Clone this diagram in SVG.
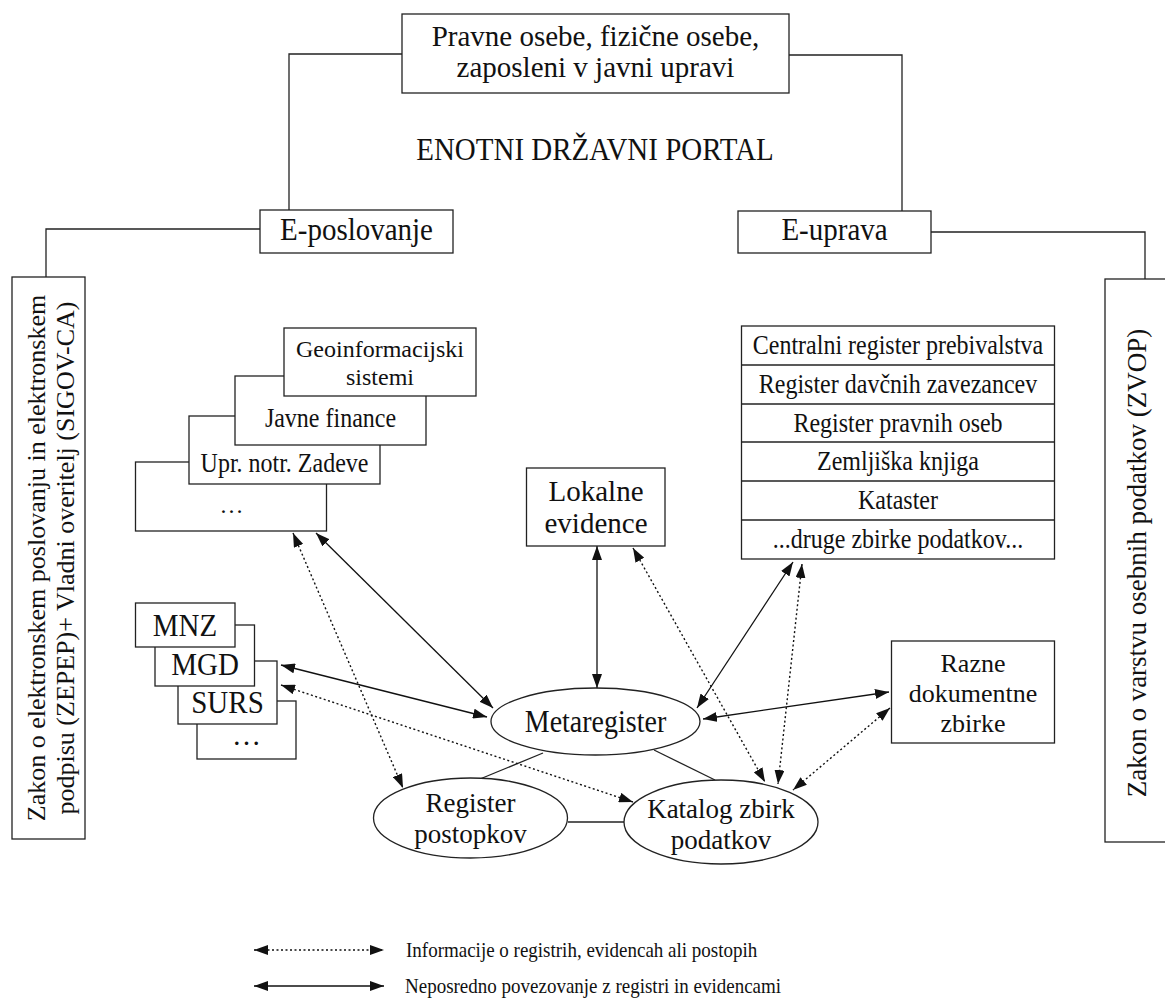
<svg xmlns="http://www.w3.org/2000/svg" width="1165" height="999" viewBox="0 0 1165 999" font-family="'Liberation Serif', 'Times New Roman', serif">
<style>
  text { font-family: "Liberation Serif", "Times New Roman", serif; fill: #111; }
  .box { fill: #fff; stroke: #222; stroke-width: 1.3; }
  .ln { fill: none; stroke: #222; stroke-width: 1.3; }
  .solid { fill: none; stroke: #111; stroke-width: 1.3; marker-start: url(#ah); marker-end: url(#ah); }
  .dot { fill: none; stroke: #111; stroke-width: 1.4; stroke-dasharray: 2 2.5; marker-start: url(#ah); marker-end: url(#ah); }
  .c { text-anchor: middle; }
  .f29 { font-size: 29px; }
  .f27 { font-size: 27px; }
  .f26 { font-size: 26px; }
  .f24 { font-size: 24px; }
</style>
<defs>
  <marker id="ah" viewBox="0 0 14 10" refX="14" refY="5" markerWidth="14" markerHeight="10" markerUnits="userSpaceOnUse" orient="auto-start-reverse">
    <path d="M0,0 L14,5 L0,10 z" fill="#111"/>
  </marker>
</defs>
<rect width="1165" height="999" fill="#fff"/>

<g id="connectors">
  <polyline class="ln" points="402,54 289,54 289,210"/>
  <polyline class="ln" points="789,55 902,55 902,211"/>
  <polyline class="ln" points="260,229 46,229 46,277"/>
  <polyline class="ln" points="931,232 1145,232 1145,279"/>
  <line class="ln" x1="543" y1="753" x2="480" y2="779"/>
  <line class="ln" x1="654" y1="750" x2="715" y2="780"/>
  <line class="ln" x1="568" y1="822" x2="624" y2="822"/>
  <line class="solid" x1="316" y1="533" x2="493" y2="708"/>
  <line class="solid" x1="597" y1="546" x2="597" y2="688"/>
  <line class="solid" x1="281" y1="665" x2="487" y2="717"/>
  <line class="solid" x1="793" y1="562" x2="697" y2="708"/>
  <line class="solid" x1="889" y1="692" x2="703" y2="719"/>
  <line class="dot" x1="293" y1="533" x2="403" y2="788"/>
  <line class="dot" x1="281" y1="685" x2="633" y2="802"/>
  <line class="dot" x1="633" y1="548" x2="765" y2="782"/>
  <line class="dot" x1="802" y1="564" x2="778" y2="784"/>
  <line class="dot" x1="890" y1="708" x2="793" y2="790"/>
</g>

<g id="top">
  <rect class="box" x="402" y="14" width="387" height="79"/>
  <text class="c f29" x="595.5" y="46">Pravne osebe, fizične osebe,</text>
  <text class="c f29" x="595.5" y="77">zaposleni v javni upravi</text>
</g>
<g id="portal">
  <text class="c f29" transform="translate(595,160) scale(1,1.12)">ENOTNI DRŽAVNI PORTAL</text>
</g>
<g id="eposlovanje">
  <rect class="box" x="260" y="210" width="193" height="43"/>
  <text class="c f29" transform="translate(356.5,240) scale(1,1.1)">E-poslovanje</text>
</g>
<g id="euprava">
  <rect class="box" x="738" y="211" width="193" height="42"/>
  <text class="c f29" transform="translate(834.5,240) scale(1,1.1)">E-uprava</text>
</g>
<g id="zepep">
  <rect class="box" x="12" y="277" width="73" height="562"/>
  <text class="c f26" transform="translate(45,558) rotate(-90)">Zakon o elektronskem poslovanju in elektronskem</text>
  <text class="c f26" transform="translate(74,558) rotate(-90)">podpisu (ZEPEP)+ Vladni overitelj (SIGOV-CA)</text>
</g>
<g id="zvop">
  <rect class="box" x="1105" y="279" width="80" height="563"/>
  <text class="c f27" transform="translate(1146,563) rotate(-90)">Zakon o varstvu osebnih podatkov (ZVOP)</text>
</g>

<g id="stack-sistemi">
  <rect class="box" x="135.5" y="462" width="191" height="69"/>
  <text class="c f24" x="231.5" y="513">…</text>
  <rect class="box" x="189" y="416" width="191" height="68"/>
  <text class="c f24" transform="translate(284.5,472) scale(1,1.1)">Upr. notr. Zadeve</text>
  <rect class="box" x="235" y="376" width="191" height="69"/>
  <text class="c f24" transform="translate(330.5,427) scale(1,1.1)">Javne finance</text>
  <rect class="box" x="284" y="328" width="192" height="68"/>
  <text class="c f24" x="380" y="357">Geoinformacijski</text>
  <text class="c f24" x="380" y="385">sistemi</text>
</g>

<g id="stack-ministrstva">
  <rect class="box" x="197" y="701" width="99" height="58"/>
  <text class="c f29" x="246.5" y="745">…</text>
  <rect class="box" x="178" y="661" width="99" height="63"/>
  <text class="c f29" transform="translate(227.5,713) scale(1,1.1)">SURS</text>
  <rect class="box" x="155" y="625" width="99.5" height="61"/>
  <text class="c f29" transform="translate(205,675) scale(1,1.1)">MGD</text>
  <rect class="box" x="135.5" y="603" width="99.5" height="44"/>
  <text class="c f29" transform="translate(185,636) scale(1,1.1)">MNZ</text>
</g>

<g id="lokalne">
  <rect class="box" x="526.5" y="468" width="138.5" height="78"/>
  <text class="c f29" x="596" y="501">Lokalne</text>
  <text class="c f29" x="596" y="533">evidence</text>
</g>

<g id="registri">
  <rect class="box" x="741.5" y="326" width="313" height="233"/>
  <line class="ln" x1="741.5" y1="365" x2="1054.5" y2="365"/>
  <line class="ln" x1="741.5" y1="404" x2="1054.5" y2="404"/>
  <line class="ln" x1="741.5" y1="442" x2="1054.5" y2="442"/>
  <line class="ln" x1="741.5" y1="481" x2="1054.5" y2="481"/>
  <line class="ln" x1="741.5" y1="520" x2="1054.5" y2="520"/>
  <text class="c f24" transform="translate(898,354) scale(1,1.1)">Centralni register prebivalstva</text>
  <text class="c f24" transform="translate(898,393) scale(1,1.1)">Register davčnih zavezancev</text>
  <text class="c f24" transform="translate(898,432) scale(1,1.1)">Register pravnih oseb</text>
  <text class="c f24" transform="translate(898,470) scale(1,1.1)">Zemljiška knjiga</text>
  <text class="c f24" transform="translate(898,509) scale(1,1.1)">Kataster</text>
  <text class="c f24" transform="translate(898,548) scale(1,1.1)">...druge zbirke podatkov...</text>
</g>

<g id="razne">
  <rect class="box" x="891.5" y="641" width="163" height="102"/>
  <text class="c f26" x="973" y="672">Razne</text>
  <text class="c f26" x="973" y="702">dokumentne</text>
  <text class="c f26" x="973" y="732">zbirke</text>
</g>

<g id="metaregister">
  <ellipse class="box" cx="595.5" cy="721.5" rx="104.5" ry="33.5"/>
  <text class="c" font-size="28" transform="translate(595.5,732) scale(1,1.1)">Metaregister</text>
</g>
<g id="register-postopkov">
  <ellipse class="box" cx="470.5" cy="818" rx="97" ry="40"/>
  <text class="c f27" x="470.5" y="812">Register</text>
  <text class="c f27" x="470.5" y="843">postopkov</text>
</g>
<g id="katalog">
  <ellipse class="box" cx="721" cy="822" rx="97" ry="42"/>
  <text class="c f27" x="721" y="818">Katalog zbirk</text>
  <text class="c f27" x="721" y="849">podatkov</text>
</g>

<g id="legend">
  <line class="dot" x1="254" y1="950" x2="384" y2="950"/>
  <text font-size="19" transform="translate(406,957) scale(1,1.15)">Informacije o registrih, evidencah ali postopih</text>
  <line class="solid" x1="254" y1="986" x2="384" y2="986"/>
  <text font-size="19" transform="translate(405,993) scale(1,1.15)">Neposredno povezovanje z registri in evidencami</text>
</g>
</svg>
